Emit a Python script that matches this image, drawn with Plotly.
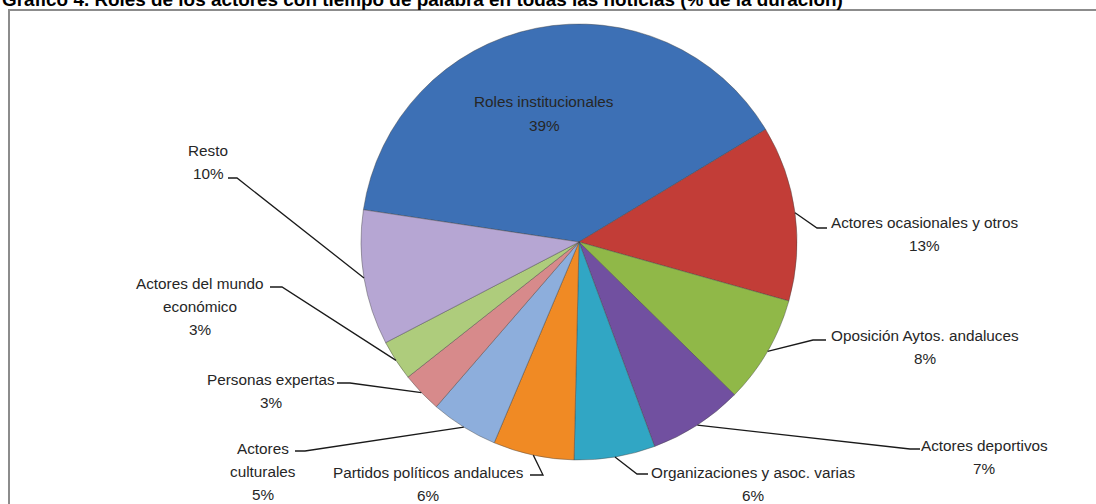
import math
import plotly.graph_objects as go

# Roles de los actores con tiempo de palabra (% de la duración)
roles = [
    "Roles institucionales",
    "Actores ocasionales y otros",
    "Oposición Aytos. andaluces",
    "Actores deportivos",
    "Organizaciones y asoc. varias",
    "Partidos políticos andaluces",
    "Actores culturales",
    "Personas expertas",
    "Actores del mundo económico",
    "Resto",
]
porcentajes = [39, 13, 8, 7, 6, 6, 5, 3, 3, 10]

# Label text as it is broken into lines beside each slice
lineas_etiqueta = [
    ["Roles institucionales"],
    ["Actores ocasionales y otros"],
    ["Oposición Aytos. andaluces"],
    ["Actores deportivos"],
    ["Organizaciones y asoc. varias"],
    ["Partidos políticos andaluces"],
    ["Actores", "culturales"],
    ["Personas expertas"],
    ["Actores del mundo", "económico"],
    ["Resto"],
]

colores = [
    "#3D70B5", "#C23D37", "#90B848", "#7150A0", "#31A6C4",
    "#F08A24", "#8DAEDC", "#D78A8B", "#AECC7C", "#B6A6D3",
]

titulo = ("Gráfico 4. Roles de los actores con tiempo de palabra en todas "
          "las noticias (% de la duración)")

# ---- canvas / pie geometry (pixels) ----
W, H = 1096, 504
CX, CY, R = 579, 242, 218
ROTATION = -81.5
LINE_GAP = 23
LABEL_FONT = dict(family="Liberation Sans, Arial, sans-serif", size=15.3, color="#262626")


def px(x):
    return x / W


def py(y):
    return 1 - y / H


# label blocks: centre x and first-line y, in pixels
label_pos = [
    (544, 102), (924, 222), (925, 335), (984, 445), (753, 472),
    (428, 472), (263, 448), (271, 379), (200, 283), (208, 150),
]
# leader-line elbow and end beside the label, in pixels
leader_pts = [
    None,
    ((817, 228), (827, 228)),
    ((813, 340), (826, 340)),
    ((910, 449), (920, 449)),
    ((637, 474), (648, 474)),
    ((543, 475), (530, 475)),
    ((305, 451), (295, 451)),
    ((350, 383), (337, 383)),
    ((282, 287), (270, 287)),
    ((237, 178), (228, 178)),
]

fig = go.Figure(go.Pie(
    labels=roles,
    values=porcentajes,
    sort=False,
    direction="clockwise",
    rotation=ROTATION,
    textinfo="none",
    hoverinfo="skip",
    marker=dict(colors=colores, line=dict(color="rgba(70,70,70,0.55)", width=0.8)),
    domain=dict(x=[px(CX - R), px(CX + R)], y=[py(CY + R), py(CY - R)]),
    showlegend=False,
))

total = sum(porcentajes)
annotations = []
shapes = []
acum = 0
for i, v in enumerate(porcentajes):
    mid = math.radians(ROTATION + 360 * (acum + v / 2) / total)
    acum += v
    lineas = lineas_etiqueta[i] + [f"{round(100 * v / total)}%"]
    lx, ly = label_pos[i]
    for k, linea in enumerate(lineas):
        annotations.append(dict(
            x=px(lx), y=py(ly + k * LINE_GAP), xref="paper", yref="paper",
            text=linea, showarrow=False, align="center",
            xanchor="center", yanchor="middle", font=LABEL_FONT,
        ))
    if leader_pts[i] is None:
        continue
    ex = CX + R * math.sin(mid)
    ey = CY - R * math.cos(mid)
    (bx, by), (tx, ty) = leader_pts[i]
    shapes.append(dict(
        type="path", xref="paper", yref="paper",
        path=f"M {px(ex)},{py(ey)} L {px(bx)},{py(by)} L {px(tx)},{py(ty)}",
        line=dict(color="#1a1a1a", width=1.3),
    ))

# chart frame
shapes.append(dict(
    type="rect", xref="paper", yref="paper",
    x0=px(9), x1=px(W + 20), y0=py(H + 20), y1=py(10),
    line=dict(color="#8c8c8c", width=2), fillcolor="rgba(0,0,0,0)", layer="below",
))

annotations.append(dict(
    x=px(0), y=py(12), xref="paper", yref="paper",
    text=f"<b>{titulo}</b>", showarrow=False,
    xanchor="left", yanchor="bottom",
    font=dict(family="Liberation Sans, Arial, sans-serif", size=18.9, color="#000000"),
))

fig.update_layout(
    width=W, height=H,
    margin=dict(l=0, r=0, t=0, b=0),
    paper_bgcolor="white",
    plot_bgcolor="white",
    annotations=annotations,
    shapes=shapes,
)

fig.write_html("out.html")
